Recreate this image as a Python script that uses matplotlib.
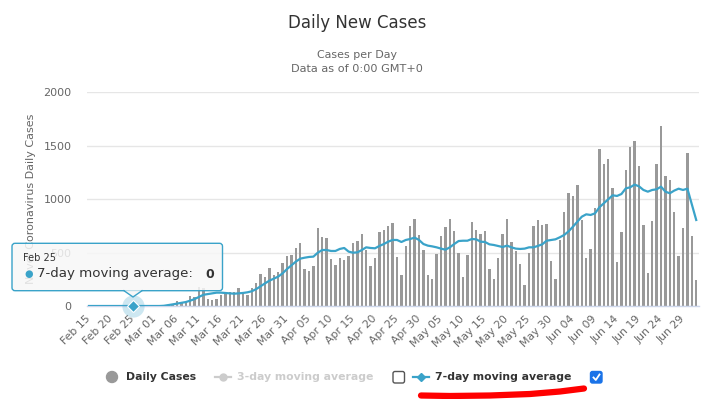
import numpy as np
import matplotlib
matplotlib.use('Agg')
import matplotlib.pyplot as plt
from matplotlib.patches import FancyBboxPatch, Polygon, Circle

plt.rcParams['font.family'] = ['DejaVu Sans']

# daily new cases, one value per day from Feb 15 to Jul 02
daily_cases = [
    0, 0, 0, 0, 0, 0, 0, 0, 0, 0, 0, 0, 0, 0, 0, 0, 0, 3, 6, 12,          # Feb 15 - Mar 05
    50, 31, 40, 94, 81, 181, 165, 62, 55, 70, 100, 131, 131, 131, 165,    # Mar 06 - Mar 20
    118, 103, 165, 218, 300, 275, 356, 290, 315, 402, 468, 477, 543, 590,  # Mar 21 - Apr 03
    346, 328, 374, 730, 646, 636, 440, 384, 449, 430, 468, 590, 608, 674,  # Apr 04 - Apr 17
    524, 374, 449, 693, 711, 749, 777, 459, 290, 562, 749, 814, 665, 524,  # Apr 18 - May 01
    290, 253, 487, 655, 739, 814, 702, 496, 271, 477, 786, 711, 674, 702,  # May 02 - May 15
    346, 253, 449, 674, 814, 599, 515, 393, 197, 496, 749, 805, 758, 768,  # May 16 - May 29
    421, 253, 618, 880, 1058, 1030, 1133, 805, 449, 534, 917, 1470, 1329,  # May 30 - Jun 11
    1376, 1104, 412, 693, 1273, 1488, 1544, 1310, 758, 309, 796, 1329,     # Jun 12 - Jun 23
    1685, 1217, 1179, 880, 468, 730, 1432, 655, 243,                       # Jun 24 - Jul 02
]

# 7-day moving average as drawn
seven_day = [
    0, 0, 0, 0, 0, 0, 0, 0, 0, 0, 0, 0, 0, 0, 0, 0, 0, 2, 8, 15,
    22, 28, 37, 50, 65, 85, 105, 112, 118, 125, 125, 122, 118, 115, 118,
    122, 128, 138, 158, 185, 212, 237, 256, 275, 306, 346, 381, 415, 443,
    452, 459, 462, 499, 524, 524, 515, 515, 534, 543, 509, 499, 502, 524,
    549, 543, 540, 562, 580, 602, 618, 618, 599, 618, 627, 640, 618, 580,
    565, 558, 549, 537, 527, 549, 580, 608, 611, 611, 627, 624, 602, 599,
    577, 571, 562, 552, 565, 549, 537, 534, 537, 549, 549, 562, 577, 611,
    618, 624, 643, 665, 699, 743, 789, 836, 858, 852, 867, 924, 961,
    998, 1036, 1030, 1048, 1101, 1111, 1136, 1120, 1086, 1070, 1086, 1092,
    1117, 1070, 1055, 1080, 1098, 1086, 1098, 950, 805,
]

tick_labels = ['Feb 15', 'Feb 20', 'Feb 25', 'Mar 01', 'Mar 06', 'Mar 11', 'Mar 16',
               'Mar 21', 'Mar 26', 'Mar 31', 'Apr 05', 'Apr 10', 'Apr 15', 'Apr 20',
               'Apr 25', 'Apr 30', 'May 05', 'May 10', 'May 15', 'May 20', 'May 25',
               'May 30', 'Jun 04', 'Jun 09', 'Jun 14', 'Jun 19', 'Jun 24', 'Jun 29']
y_ticks = [0, 500, 1000, 1500, 2000]
hover_day = 10  # Feb 25

W, H = 709, 399
fig = plt.figure(figsize=(W / 100, H / 100), dpi=100)

# plot area in pixels
left_px, right_px, top_px, bottom_px = 86.8, 699.3, 92.3, 306.0
ax = fig.add_axes([left_px / W, 1 - bottom_px / H,
                   (right_px - left_px) / W, (bottom_px - top_px) / H])

days = np.arange(len(daily_cases))
blue = '#3aa3c9'
grey_txt = '#666666'

ax.bar(days, daily_cases, width=0.55, color='#999999', zorder=2)
ax.plot(days, seven_day, color=blue, lw=1.6, solid_joinstyle='round', zorder=3)
ax.plot([hover_day], [seven_day[hover_day]], marker='o', ms=16, color=blue,
        alpha=0.25, mec='none', zorder=4, clip_on=False)
ax.plot([hover_day], [seven_day[hover_day]], marker='D', ms=6.5, color=blue,
        mec='white', mew=0.8, zorder=5, clip_on=False)

ax.set_xlim(-0.5, 138.7)
ax.set_ylim(0, 2000)
ax.set_yticks(y_ticks)
ax.set_yticklabels([str(v) for v in y_ticks], color=grey_txt, fontsize=8)
ax.set_xticks(np.arange(0, 5 * len(tick_labels), 5))
ax.set_xticklabels(tick_labels, rotation=45, ha='right', va='center',
                   rotation_mode='anchor', color=grey_txt, fontsize=7.8)
ax.tick_params(axis='x', length=0, pad=8)
ax.tick_params(axis='y', length=0, pad=11)
ax.grid(axis='y', color='#e6e6e6', lw=1)
ax.set_axisbelow(True)
for s in ('top', 'right', 'left'):
    ax.spines[s].set_visible(False)
ax.spines['bottom'].set_color('#ccd6eb')
ax.spines['bottom'].set_linewidth(1)
ax.set_ylabel('Novel Coronavirus Daily Cases', color=grey_txt, fontsize=8, labelpad=5)

# overlay in pixel coordinates for title, tooltip and legend
ov = fig.add_axes([0, 0, 1, 1], zorder=10)
ov.set_xlim(0, W)
ov.set_ylim(H, 0)
ov.axis('off')
ov.patch.set_alpha(0)

ov.text(357, 23, 'Daily New Cases', ha='center', va='center', fontsize=12, color='#333333')
ov.text(357, 55, 'Cases per Day', ha='center', va='center', fontsize=7.9, color=grey_txt)
ov.text(357, 69, 'Data as of 0:00 GMT+0', ha='center', va='center', fontsize=8.1, color=grey_txt)

# tooltip
box = FancyBboxPatch((12, 243.3), 210.5, 47.4, boxstyle='round,pad=0,rounding_size=3',
                     fc=(0.97, 0.97, 0.97, 0.85), ec=blue, lw=1)
ov.add_patch(box)
ov.add_patch(Polygon([(124, 290.2), (133, 297), (142, 290.2)], closed=True,
                     fc=(0.97, 0.97, 0.97, 0.85), ec='none'))
ov.plot([124, 133, 142], [290.7, 297, 290.7], color=blue, lw=1)
ov.text(23, 258, 'Feb 25', fontsize=7, color='#333333', va='center')
ov.text(24, 274, '\u25cf', fontsize=7, color=blue, va='center')
ov.text(37, 274, '7-day moving average: ', fontsize=9.6, color='#333333', va='center')
ov.text(205, 274, '0', fontsize=9, color='#333333', va='center', fontweight='bold')

# legend
ly = 377
fs_leg = 7.8
ov.add_patch(Circle((112, ly), 5.5, color='#999999'))
ov.text(126, ly, 'Daily Cases', fontsize=fs_leg, fontweight='bold', color='#333333', va='center')
ov.plot([215, 231], [ly, ly], color='#cccccc', lw=1.6)
ov.plot([223], [ly], marker='o', ms=5, color='#cccccc')
ov.text(237, ly, '3-day moving average', fontsize=fs_leg, fontweight='bold', color='#cccccc', va='center')
ov.add_patch(FancyBboxPatch((393, 371.5), 11.5, 11.5, boxstyle='round,pad=0,rounding_size=2',
                            fc='white', ec='#555555', lw=1))
ov.plot([413, 429], [ly, ly], color=blue, lw=1.6)
ov.plot([421], [ly], marker='D', ms=4.5, color=blue)
ov.text(435, ly, '7-day moving average', fontsize=fs_leg, fontweight='bold', color='#333333', va='center')
ov.add_patch(FancyBboxPatch((590.5, 371.5), 11.5, 11.5, boxstyle='round,pad=0,rounding_size=2',
                            fc='#1a73e8', ec='#1a73e8', lw=1))
ov.plot([593.5, 595.8, 599.5], [377.5, 380, 374.5], color='white', lw=1.3)

# red hand-drawn underline
ov.plot([421, 450, 490, 530, 560, 584], [395.5, 396, 395.5, 394, 391.5, 388.5],
        color='#ff0000', lw=4.5, solid_capstyle='round')

fig.savefig('out.png', dpi=100)
